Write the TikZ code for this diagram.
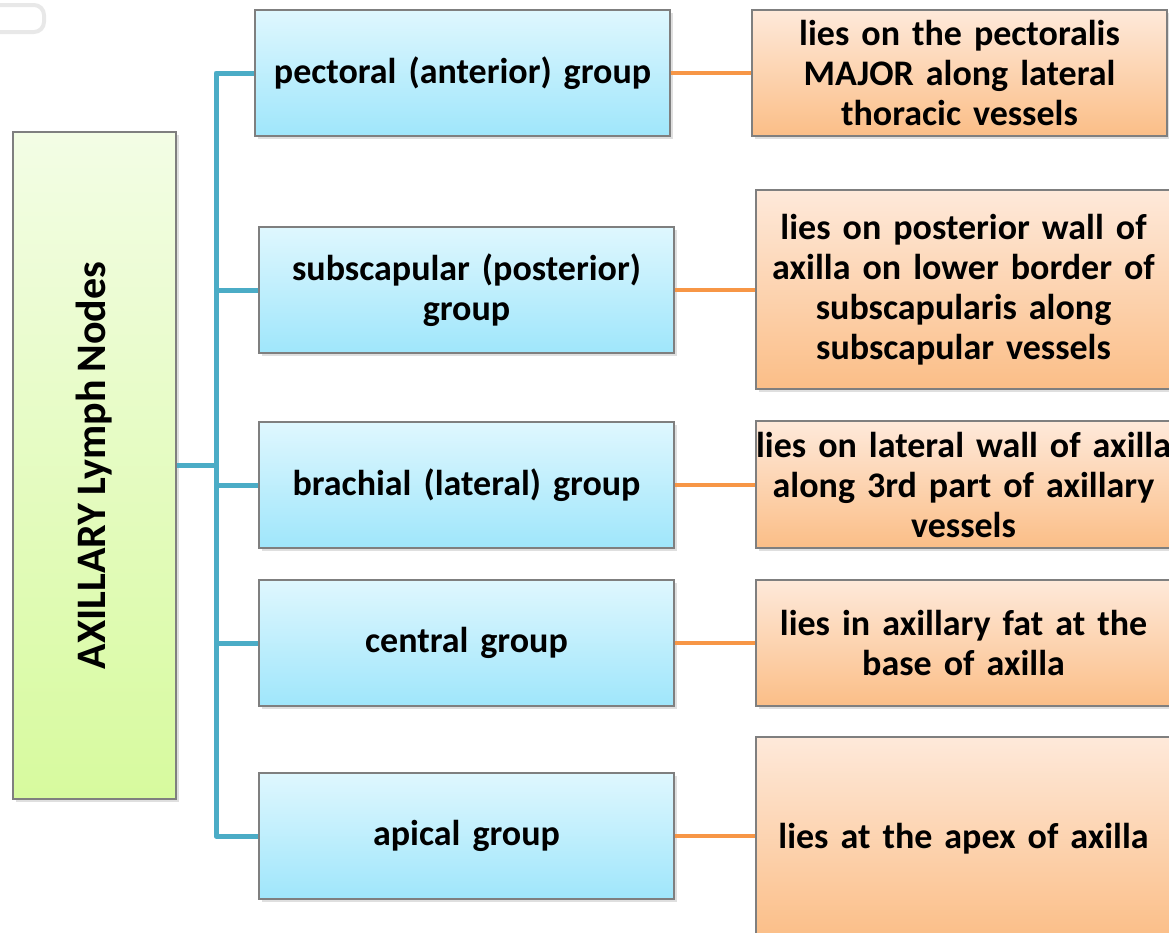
\documentclass[tikz,border=0pt]{standalone}
\usepackage{fontspec}
\setmainfont{Carlito}
\usetikzlibrary{shadows}
\definecolor{bluetop}{HTML}{DFF7FE}
\definecolor{bluebot}{HTML}{9FE6FB}
\definecolor{orgtop}{HTML}{FEE9DA}
\definecolor{orgbot}{HTML}{FBBE87}
\definecolor{grntop}{HTML}{F3FDE5}
\definecolor{grnbot}{HTML}{D7FA9E}
\definecolor{bline}{HTML}{4BACC6}
\definecolor{oline}{HTML}{F79646}
\definecolor{edge}{HTML}{7F7F7F}
\newcommand{\boxfont}{\fontsize{36}{40}\selectfont\bfseries\spaceskip=0.19em plus 0.05em minus 0.05em\relax}
\newcommand{\rootfont}{\fontsize{42}{46}\selectfont\bfseries\spaceskip=0.19em\relax}
\tikzset{
  basebox/.style={draw=edge, line width=1.2pt, shading=axis, shading angle=0,
    drop shadow={shadow xshift=3pt, shadow yshift=-3pt, opacity=0.25},
    align=center, inner sep=0pt},
  grpbox/.style={basebox, top color=bluetop, bottom color=bluebot, font=\boxfont,
    minimum width=415pt, minimum height=126pt, text width=415pt},
  descbox/.style={basebox, top color=orgtop, bottom color=orgbot, font=\boxfont,
    minimum width=415pt, text width=415pt},
  rootbox/.style={basebox, top color=grntop, bottom color=grnbot, font=\rootfont},
  bconn/.style={draw=bline, line width=5pt},
  oconn/.style={draw=oline, line width=4pt}
}
\begin{document}
\begin{tikzpicture}[x=1pt,y=-1pt]
\useasboundingbox (0,0) rectangle (1169,932);
\clip (0,0) rectangle (1169,932);
% faint leftover shape top-left
\draw[gray!18, line width=4pt, rounded corners=10pt] (-30,5) rectangle (44,32);

% root
\node[rootbox, minimum width=667pt, minimum height=163pt, rotate=90] (root) at (94.5,465.5) {AXILLARY Lymph Nodes};

% group boxes
\node[grpbox] (g1) at (462.5,73) {pectoral (anterior) group};
\node[grpbox] (g2) at (466.5,290) {subscapular (posterior)\\group};
\node[grpbox] (g3) at (466.5,485) {brachial (lateral) group};
\node[grpbox] (g4) at (466.5,643) {central group};
\node[grpbox] (g5) at (466.5,836) {apical group};

% description boxes
\node[descbox, minimum height=126pt] (d1) at (959.5,73) {lies on the pectoralis\\MAJOR along lateral\\thoracic vessels};
\node[descbox, minimum height=199pt] (d2) at (963.5,289.5) {lies on posterior wall of\\axilla on lower border of\\subscapularis along\\subscapular vessels};
\node[descbox, minimum height=127pt] (d3) at (963.5,484.5) {lies on lateral wall of axilla\\along 3rd part of axillary\\vessels};
\node[descbox, minimum height=126pt] (d4) at (963.5,643) {lies in axillary fat at the\\base of axilla};
\node[descbox, minimum height=203pt] (d5) at (963.5,838.5) {lies at the apex of axilla};

% trunk
\coordinate (tt) at (216,73);
\coordinate (tb) at (216,836);
\coordinate (tr) at (216,465.5);
\draw[bconn] (root.south |- tr) -- (tr);
\draw[bconn, line join=round] (g1.west) -- (tt) -- (tb) -- (g5.west);
\draw[bconn] (216,290) -- (g2.west);
\draw[bconn] (216,485) -- (g3.west);
\draw[bconn] (216,643) -- (g4.west);

% orange connectors
\draw[oconn] (g1.east) -- (d1.west);
\draw[oconn] (g2.east) -- (d2.west |- g2.east);
\draw[oconn] (g3.east) -- (d3.west |- g3.east);
\draw[oconn] (g4.east) -- (d4.west |- g4.east);
\draw[oconn] (g5.east) -- (d5.west |- g5.east);
\end{tikzpicture}
\end{document}
